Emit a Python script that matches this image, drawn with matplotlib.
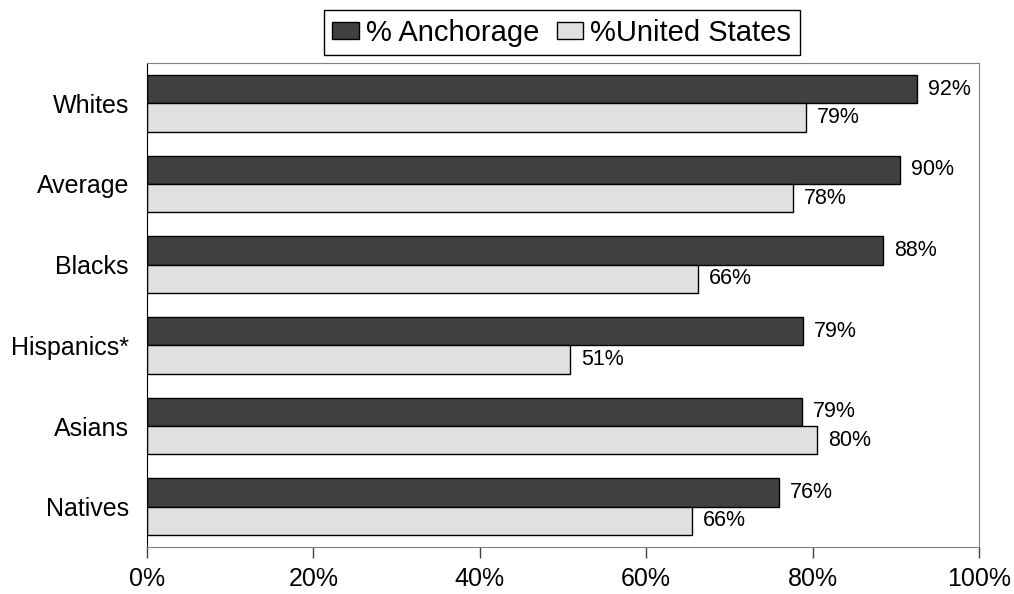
import numpy as np
import matplotlib
matplotlib.use('Agg')
import matplotlib.pyplot as plt

plt.rcParams['font.family'] = ['Liberation Sans', 'DejaVu Sans']

categories = ['Whites', 'Average', 'Blacks', 'Hispanics*', 'Asians', 'Natives']
anchorage = [92.5, 90.5, 88.5, 78.8, 78.7, 76.0]
united_states = [79.2, 77.6, 66.2, 50.8, 80.5, 65.5]
anchorage_labels = ['92%', '90%', '88%', '79%', '79%', '76%']
us_labels = ['79%', '78%', '66%', '51%', '80%', '66%']
series_names = ['% Anchorage', '%United States']
xticks = [0, 20, 40, 60, 80, 100]

fig = plt.figure(figsize=(10.14, 5.94), dpi=100)
ax = fig.add_axes([0.145, 0.079, 0.8205, 0.815])

y = np.arange(len(categories))
h = 0.35
b1 = ax.barh(y - h / 2, anchorage, height=h, color='#404040', edgecolor='black',
             linewidth=1, label=series_names[0])
b2 = ax.barh(y + h / 2, united_states, height=h, color='#e0e0e0', edgecolor='black',
             linewidth=1, label=series_names[1])

# value labels just past the end of each bar
for bars, labels in ((b1, anchorage_labels), (b2, us_labels)):
    for rect, lab in zip(bars, labels):
        ax.annotate(lab, (rect.get_width(), rect.get_y() + rect.get_height() / 2),
                    xytext=(11, 0), textcoords='offset pixels',
                    va='center', ha='left', fontsize=15.5)

ax.set_xlim(0, 100)
ax.set_ylim(len(categories) - 0.5, -0.5)
ax.set_yticks(y)
ax.set_yticklabels(categories, fontsize=18)
ax.tick_params(axis='y', length=0, pad=13)
ax.set_xticks(xticks)
ax.set_xticklabels([f'{v}%' for v in xticks], fontsize=18)
ax.tick_params(axis='x', length=8, width=1, color='#404040', pad=6)

for side in ('top', 'right', 'bottom'):
    ax.spines[side].set_color('#808080')
ax.spines['left'].set_color('black')

leg = fig.legend(loc='center', bbox_to_anchor=(0.554, 0.945), ncol=2, fontsize=21,
                 frameon=True, fancybox=False, edgecolor='black', framealpha=1,
                 handlelength=0.9, handleheight=0.55, handletextpad=0.25,
                 columnspacing=0.6, borderpad=0.3, borderaxespad=0)
leg.get_frame().set_linewidth(1)

fig.savefig('out.png', dpi=100)
